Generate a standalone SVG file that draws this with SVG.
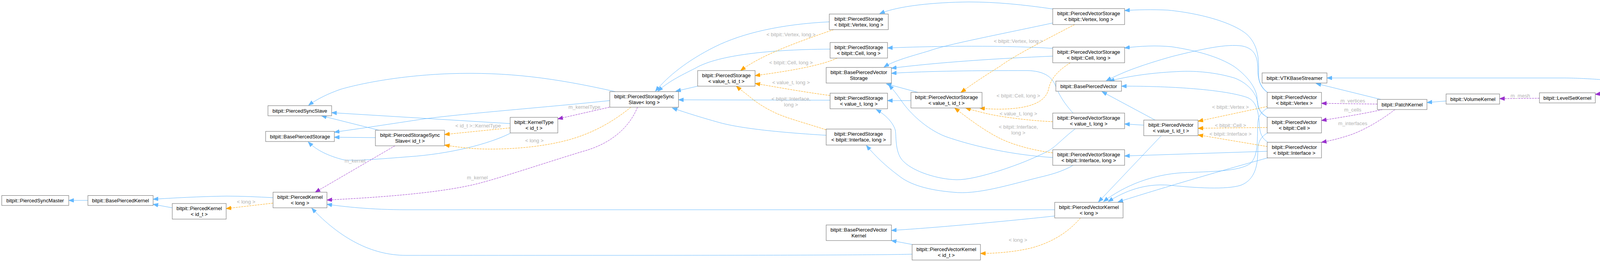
<svg xmlns="http://www.w3.org/2000/svg" width="5261" height="672" viewBox="0 0 5261 672">
<defs>
<style>
text{font-family:"Liberation Sans",Arial,Helvetica,sans-serif;font-size:13px;fill:#000;text-anchor:middle}
.n rect{fill:#fff;stroke:#666;stroke-width:1}
.nl rect{fill:#fff;stroke:#bfbfbf;stroke-width:1}
.hl rect{fill:#999;stroke:#666;stroke-width:1}
.e{fill:none;stroke-width:1}
.b{stroke:#63b8ff;marker-end:url(#ab)}
.o{stroke:#ffa500;stroke-dasharray:5,2;marker-end:url(#ao)}
.p{stroke:#9a32cd;stroke-dasharray:5,2;marker-end:url(#ap)}
.lb{fill:#b3b3b3}
</style>
<marker id="ab" markerUnits="userSpaceOnUse" markerWidth="14" markerHeight="11" refX="13" refY="5" orient="auto" viewBox="0 0 14 11"><path d="M0,0 L13,5 L0,10 z" fill="#63b8ff" stroke="#63b8ff"/></marker>
<marker id="ao" markerUnits="userSpaceOnUse" markerWidth="14" markerHeight="11" refX="13" refY="5" orient="auto" viewBox="0 0 14 11"><path d="M0,0 L13,5 L0,10 z" fill="#ffa500" stroke="#ffa500"/></marker>
<marker id="ap" markerUnits="userSpaceOnUse" markerWidth="14" markerHeight="11" refX="13" refY="5" orient="auto" viewBox="0 0 14 11"><path d="M0,0 L13,5 L0,10 z" fill="#9a32cd" stroke="#9a32cd"/></marker>
</defs>
<rect x="0" y="0" width="5261" height="672" fill="#fff"/>

<g id="edges">
<path class="e b" d="M225,514 L176,514"/>
<path class="e b" d="M441,533 L392,524"/>
<path class="e b" d="M699,507 C660,505 620,503 580,503 C510,504 440,508 392,511"/>
<path class="e o" d="M699,521 L579,535"/>
<text class="lb" x="630" y="521.5">&lt; long &gt;</text>
<path class="e b" d="M970,334 L823,297"/>
<path class="e b" d="M1306,317 L849,289"/>
<path class="e b" d="M1575,235 C1420,200 1300,184 1150,189 C1020,194 920,215 872,229 C840,240 810,255 790,270"/>
<path class="e b" d="M961,353 L856,352"/>
<path class="e b" d="M1561,258 C1400,275 1200,290 1085,305 C1000,318 920,330 856,339"/>
<path class="e b" d="M1306,342 C1250,370 1150,395 1046,402 C970,408 910,413 880,410 C840,400 810,385 789,364"/>
<path class="e o" d="M1306,328 L1138,345"/>
<text class="lb" x="1224" y="326.5">&lt; id_t &gt;::KernelType</text>
<path class="e o" d="M1615,275 C1560,320 1500,350 1430,365 C1350,383 1250,385 1200,380 C1170,377 1150,374 1138,372"/>
<text class="lb" x="1368" y="364.5">&lt; long &gt;</text>
<path class="e p" d="M1560,275 L1428,305"/>
<text class="lb" x="1496" y="278.5">m_kernelType</text>
<path class="e p" d="M1011,374 L807,493"/>
<text class="lb" x="909" y="416.5">m_kernel</text>
<path class="e p" d="M1632,275 C1610,330 1560,370 1493,388 C1420,410 1300,450 1238,467 C1150,492 1000,505 837,513"/>
<text class="lb" x="1222" y="459.5">m_kernel</text>
<path class="e b" d="M2700,538 L1040,538 C950,538 880,530 837,524"/>
<path class="e b" d="M2335,652 C2200,655 1800,655 1040,655 C950,655 870,610 798,534"/>
<path class="e b" d="M2123,56 C2000,62 1900,85 1830,120 C1760,155 1710,195 1678,234"/>
<path class="e b" d="M2125,126 C1950,127 1830,145 1780,175 C1740,195 1710,210 1684,234"/>
<path class="e b" d="M1786,221 L1730,234"/>
<path class="e b" d="M2125,257 L1737,256"/>
<path class="e b" d="M2115,347 C2000,340 1900,330 1844,315 C1790,300 1750,287 1721,277"/>
<path class="e o" d="M2134,76 C2050,105 1950,140 1896,181"/>
<text class="lb" x="2025" y="92.5">&lt; bitpit::Vertex, long &gt;</text>
<path class="e o" d="M2143,149 C2100,170 2000,185 1933,194"/>
<text class="lb" x="2025" y="164.5">&lt; bitpit::Cell, long &gt;</text>
<path class="e o" d="M2125,245 C2050,235 1980,222 1933,214"/>
<text class="lb" x="2025" y="215.5">&lt; value_t, long &gt;</text>
<path class="e o" d="M2115,333 C2060,315 2020,305 1988,291 C1960,278 1940,265 1925,253 C1910,240 1895,230 1885,221"/>
<text class="lb" x="2025" y="257.5">&lt; bitpit::Interface,</text>
<text class="lb" x="2025" y="272.5">long &gt;</text>
<path class="e b" d="M2695,23 C2620,12 2550,5 2480,5 C2390,6 2300,15 2252,35"/>
<path class="e b" d="M2695,124 C2600,118 2450,116 2272,123"/>
<path class="e b" d="M2695,59 C2550,90 2420,115 2380,130 C2330,145 2290,155 2263,172"/>
<path class="e b" d="M2695,144 C2550,150 2400,160 2282,175"/>
<path class="e b" d="M2747,290 C2720,260 2710,240 2700,215 C2690,195 2670,182 2630,181 C2500,181 2380,182 2282,188"/>
<path class="e b" d="M2350,237 L2269,215"/>
<path class="e b" d="M2695,404 C2600,398 2500,378 2420,350 C2370,330 2330,290 2310,262 C2295,240 2285,228 2275,218"/>
<path class="e b" d="M2332,258 L2272,258"/>
<path class="e b" d="M2752,331 C2720,355 2700,380 2678,390 C2620,420 2500,462 2449,461 C2400,460 2340,440 2315,416 C2290,395 2295,350 2292,334 C2285,310 2260,290 2243,281"/>
<path class="e b" d="M2747,424 C2720,440 2690,448 2660,455 C2580,475 2500,500 2440,493 C2380,488 2330,475 2300,450 C2270,428 2240,400 2218,373"/>
<path class="e o" d="M2751,63 C2700,90 2600,140 2560,170 C2520,195 2490,215 2460,237"/>
<text class="lb" x="2607" y="109.5">&lt; bitpit::Vertex, long &gt;</text>
<path class="e o" d="M2740,161 C2710,180 2690,200 2684,230 C2675,265 2630,279 2560,280 C2540,280 2525,279 2508,277"/>
<text class="lb" x="2607" y="249.5">&lt; bitpit::Cell, long &gt;</text>
<path class="e o" d="M2695,312 C2640,310 2560,300 2520,290 C2500,285 2485,281 2472,277"/>
<text class="lb" x="2607" y="295.5">&lt; value_t, long &gt;</text>
<path class="e o" d="M2695,392 C2640,385 2590,370 2560,355 C2520,335 2480,305 2444,277"/>
<text class="lb" x="2607" y="329.5">&lt; bitpit::Interface,</text>
<text class="lb" x="2607" y="344.5">long &gt;</text>
<path class="e b" d="M2700,554 C2600,565 2400,584 2282,591"/>
<path class="e b" d="M2335,627 L2282,617"/>
<path class="e o" d="M2766,559 C2740,590 2700,620 2640,636 C2590,648 2540,650 2510,650"/>
<text class="lb" x="2606" y="619.5">&lt; long &gt;</text>
<path class="e b" d="M3245,237 C3230,225 3222,210 3222,193 C3222,160 3225,120 3193,89 C3160,60 3080,35 2990,26 C2950,24 2910,25 2879,27"/>
<path class="e b" d="M3245,301 C3225,290 3218,270 3218,250 C3216,230 3200,200 3160,171 C3120,145 3060,129 3000,120 C2960,116 2920,118 2879,123"/>
<path class="e b" d="M3245,237 C3225,225 3220,200 3220,180 C3220,150 3215,125 3180,118 C3140,112 3080,125 3000,145 C2930,165 2880,182 2832,207"/>
<path class="e b" d="M3245,301 C3225,290 3220,280 3220,265 C3218,245 3200,215 3160,200 C3110,185 3060,182 3027,183 C2950,186 2890,195 2840,208"/>
<path class="e b" d="M3245,364 C3230,355 3225,340 3224,320 C3222,290 3218,260 3193,250 C3150,235 3060,225 2950,222 C2920,221 2895,221 2871,221"/>
<path class="e b" d="M2957,308 L2821,235"/>
<path class="e b" d="M2928,321 L2879,318"/>
<path class="e b" d="M2973,348 L2812,518"/>
<path class="e b" d="M3245,277 C3225,290 3220,300 3220,320 C3218,360 3222,400 3200,420 C3170,440 3100,440 3027,443 C2950,448 2880,475 2825,517"/>
<path class="e b" d="M3245,341 C3228,350 3220,365 3220,385 C3220,420 3215,460 3177,475 C3140,487 3060,482 2993,475 C2930,470 2880,490 2837,517"/>
<path class="e b" d="M3245,405 C3100,445 2950,490 2862,518"/>
<path class="e b" d="M3245,388 L2879,400"/>
<path class="e o" d="M3245,273 L3067,311"/>
<text class="lb" x="3150" y="278.5">&lt; bitpit::Vertex &gt;</text>
<path class="e o" d="M3245,327 L3067,329"/>
<text class="lb" x="3150" y="325.5">&lt; bitpit::Cell &gt;</text>
<path class="e o" d="M3245,376 L3067,346"/>
<text class="lb" x="3150" y="347.5">&lt; bitpit::Interface &gt;</text>
<path class="e b" d="M3535,255 L3369,214"/>
<path class="e b" d="M4201,212 C4100,204 4050,200 4000,200 L3397,200"/>
<path class="e p" d="M3526,267 L3383,265"/>
<text class="lb" x="3463" y="262.5">m_vertices</text>
<path class="e p" d="M3539,281 C3500,290 3440,300 3383,309"/>
<text class="lb" x="3463" y="285.5">m_cells</text>
<path class="e p" d="M3571,281 C3540,305 3500,330 3460,345 C3430,355 3410,360 3383,365"/>
<text class="lb" x="3463" y="320.5">m_interfaces</text>
<path class="e b" d="M3702,259 L3653,263"/>
<path class="e p" d="M3941,252 L3839,253"/>
<text class="lb" x="3892" y="249.5">m_mesh</text>
<path class="e p" d="M4201,229 L4084,242"/>
<text class="lb" x="4138" y="230.5">m_kernel</text>
<path class="e b" d="M4409,222 L4347,222"/>
<path class="e b" d="M4409,246 L4351,259"/>
<path class="e b" d="M4785,236 C4700,250 4550,265 4360,278"/>
<path class="e b" d="M4789,195 C4720,178 4650,168 4575,163"/>
<path class="e o" d="M4785,222 L4588,222"/>
<text class="lb" x="4688" y="204.5">&lt; SourceLevelSetObject,</text>
<text class="lb" x="4688" y="218.5">SourceLevelSetObject &gt;</text>
<path class="e b" d="M5013,222 L4964,222"/>
</g>

<g id="n1" class="n"><rect x="4.5" y="501.5" width="171.5" height="25.5"/><text x="90" y="519">bitpit::PiercedSyncMaster</text></g>
<g id="n2" class="n"><rect x="225" y="501.5" width="167" height="25.5"/><text x="308.5" y="519">bitpit::BasePiercedKernel</text></g>
<g id="n3" class="n"><rect x="441" y="522" width="138" height="40"/><text x="510" y="538.5">bitpit::PiercedKernel</text><text x="510" y="553.5">&lt; id_t &gt;</text></g>
<g id="n4" class="n"><rect x="686" y="271" width="163" height="26"/><text x="767.5" y="288.5">bitpit::PiercedSyncSlave</text></g>
<g id="n5" class="n"><rect x="680" y="337" width="176" height="26"/><text x="768" y="354.5">bitpit::BasePiercedStorage</text></g>
<g id="n6" class="n"><rect x="961" y="334" width="177" height="40"/><text x="1049.5" y="350.5">bitpit::PiercedStorageSync</text><text x="1049.5" y="365.5">Slave&lt; id_t &gt;</text></g>
<g id="n7" class="n"><rect x="1306" y="301" width="122" height="40"/><text x="1367" y="317.5">bitpit::KernelType</text><text x="1367" y="332.5">&lt; id_t &gt;</text></g>
<g id="n8" class="n"><rect x="699" y="493" width="138" height="40"/><text x="768" y="509.5">bitpit::PiercedKernel</text><text x="768" y="524.5">&lt; long &gt;</text></g>
<g id="n9" class="n"><rect x="1561" y="235" width="176" height="40"/><text x="1649" y="251.5">bitpit::PiercedStorageSync</text><text x="1649" y="266.5">Slave&lt; long &gt;</text></g>
<g id="n10" class="n"><rect x="2123" y="36" width="151" height="40"/><text x="2198.5" y="52.5">bitpit::PiercedStorage</text><text x="2198.5" y="67.5">&lt; bitpit::Vertex, long &gt;</text></g>
<g id="n11" class="n"><rect x="2125" y="109" width="147" height="40"/><text x="2198.5" y="125.5">bitpit::PiercedStorage</text><text x="2198.5" y="140.5">&lt; bitpit::Cell, long &gt;</text></g>
<g id="n12" class="n"><rect x="1786" y="181" width="147" height="40"/><text x="1859.5" y="197.5">bitpit::PiercedStorage</text><text x="1859.5" y="212.5">&lt; value_t, id_t &gt;</text></g>
<g id="n13" class="n"><rect x="2115" y="173" width="167" height="40"/><text x="2198.5" y="189.5">bitpit::BasePiercedVector</text><text x="2198.5" y="204.5">Storage</text></g>
<g id="n14" class="n"><rect x="2125" y="239" width="147" height="40"/><text x="2198.5" y="255.5">bitpit::PiercedStorage</text><text x="2198.5" y="270.5">&lt; value_t, long &gt;</text></g>
<g id="n15" class="n"><rect x="2115" y="331" width="166" height="41"/><text x="2198" y="347.5">bitpit::PiercedStorage</text><text x="2198" y="362.5">&lt; bitpit::Interface, long &gt;</text></g>
<g id="n16" class="n"><rect x="2115" y="577" width="167" height="40"/><text x="2198.5" y="593.5">bitpit::BasePiercedVector</text><text x="2198.5" y="608.5">Kernel</text></g>
<g id="n17" class="n"><rect x="2335" y="627" width="175" height="40"/><text x="2422.5" y="643.5">bitpit::PiercedVectorKernel</text><text x="2422.5" y="658.5">&lt; id_t &gt;</text></g>
<g id="n18" class="n"><rect x="2332" y="237" width="182" height="40"/><text x="2423" y="253.5">bitpit::PiercedVectorStorage</text><text x="2423" y="268.5">&lt; value_t, id_t &gt;</text></g>
<g id="n19" class="n"><rect x="2695" y="22" width="184" height="41"/><text x="2787" y="38.5">bitpit::PiercedVectorStorage</text><text x="2787" y="53.5">&lt; bitpit::Vertex, long &gt;</text></g>
<g id="n20" class="n"><rect x="2695" y="121" width="184" height="40"/><text x="2787" y="137.5">bitpit::PiercedVectorStorage</text><text x="2787" y="152.5">&lt; bitpit::Cell, long &gt;</text></g>
<g id="n21" class="n"><rect x="2703" y="208" width="168" height="26"/><text x="2787" y="225.5">bitpit::BasePiercedVector</text></g>
<g id="n22" class="n"><rect x="2695" y="290" width="184" height="40"/><text x="2787" y="306.5">bitpit::PiercedVectorStorage</text><text x="2787" y="321.5">&lt; value_t, long &gt;</text></g>
<g id="n23" class="n"><rect x="2928" y="308" width="139" height="40"/><text x="2997.5" y="324.5">bitpit::PiercedVector</text><text x="2997.5" y="339.5">&lt; value_t, id_t &gt;</text></g>
<g id="n24" class="n"><rect x="2695" y="384" width="184" height="40"/><text x="2787" y="400.5">bitpit::PiercedVectorStorage</text><text x="2787" y="415.5">&lt; bitpit::Interface, long &gt;</text></g>
<g id="n25" class="n"><rect x="2700" y="519" width="175" height="40"/><text x="2787.5" y="535.5">bitpit::PiercedVectorKernel</text><text x="2787.5" y="550.5">&lt; long &gt;</text></g>
<g id="n26" class="n"><rect x="3231" y="187" width="166" height="26"/><text x="3314" y="204.5">bitpit::VTKBaseStreamer</text></g>
<g id="n27" class="n"><rect x="3244" y="237" width="139" height="40"/><text x="3313.5" y="253.5">bitpit::PiercedVector</text><text x="3313.5" y="268.5">&lt; bitpit::Vertex &gt;</text></g>
<g id="n28" class="n"><rect x="3244" y="301" width="139" height="40"/><text x="3313.5" y="317.5">bitpit::PiercedVector</text><text x="3313.5" y="332.5">&lt; bitpit::Cell &gt;</text></g>
<g id="n29" class="n"><rect x="3244" y="365" width="139" height="40"/><text x="3313.5" y="381.5">bitpit::PiercedVector</text><text x="3313.5" y="396.5">&lt; bitpit::Interface &gt;</text></g>
<g id="n30" class="n"><rect x="3526" y="255" width="127" height="26"/><text x="3589.5" y="272.5">bitpit::PatchKernel</text></g>
<g id="n31" class="n"><rect x="3702" y="241" width="137" height="26"/><text x="3770.5" y="258.5">bitpit::VolumeKernel</text></g>
<g id="n32" class="n"><rect x="3941" y="238" width="143" height="26"/><text x="4012.5" y="255.5">bitpit::LevelSetKernel</text></g>
<g id="n33" class="n"><rect x="4201" y="208" width="146" height="26"/><text x="4274" y="225.5">bitpit::LevelSetObject</text></g>
<g id="n34" class="nl"><rect x="4189" y="262" width="171" height="41"/><text x="4274.5" y="278.5">bitpit::LevelSetProxyBase</text><text x="4274.5" y="293.5">Object</text></g>
<g id="n35" class="nl"><rect x="4423" y="146" width="152" height="26"/><text x="4499" y="163.5">SourceLevelSetObject</text></g>
<g id="n36" class="n"><rect x="4409" y="195" width="179" height="55"/><text x="4498.5" y="211.5">bitpit::LevelSetProxyObject</text><text x="4494" y="226">&lt; SourceLevelSetObject,</text><text x="4500" y="240.5">BaseLevelSetObject &gt;</text></g>
<g id="n37" class="n"><rect x="4785" y="195" width="179" height="55"/><text x="4874.5" y="211.5">bitpit::LevelSetProxyObject</text><text x="4870" y="226">&lt; SourceLevelSetObject,</text><text x="4878" y="240.5">SourceLevelSetObject &gt;</text></g>
<g id="n38" class="hl"><rect x="5013" y="202" width="243" height="41"/><text x="5024" y="218.5" style="text-anchor:start">bitpit::LevelSetComplement</text><text x="5024" y="233.5" style="text-anchor:start">BaseObject&lt; SourceLevelSetObject &gt;</text></g>
</svg>
